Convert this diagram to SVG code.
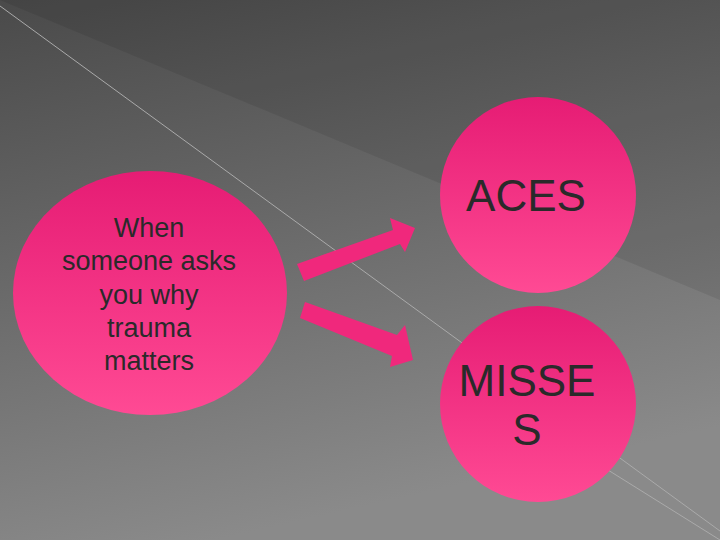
<svg xmlns="http://www.w3.org/2000/svg" width="720" height="540" viewBox="0 0 720 540">
<defs>
<linearGradient id="bg" x1="0" y1="0" x2="0.3" y2="1"><stop offset="0" stop-color="#4a4a4a"/><stop offset="1" stop-color="#8a8a8a"/></linearGradient>
<linearGradient id="pk" x1="0" y1="0" x2="0" y2="1"><stop offset="0" stop-color="#e61c74"/><stop offset="1" stop-color="#ff4a94"/></linearGradient>
<style>.c{fill:url(#pk)}.a{fill:#f0287c}.t{font-family:"Liberation Sans",Arial,sans-serif;fill:#2a2a2a;text-anchor:middle}.l{stroke:#aaa;stroke-width:1;fill:none}</style>
</defs>
<rect width="720" height="540" fill="url(#bg)"/>
<path d="M0,0 L720,0 L720,300 Z" fill="#000" opacity="0.08"/>
<line class="l" x1="0" y1="6" x2="720" y2="531"/>
<line class="l" x1="560" y1="440" x2="720" y2="540"/>
<g id="when"><ellipse class="c" cx="150" cy="293" rx="137" ry="122"/>
<text class="t" font-size="27"><tspan x="149" y="237">When</tspan><tspan x="149" y="270">someone asks</tspan><tspan x="149" y="304">you why</tspan><tspan x="149" y="337">trauma</tspan><tspan x="149" y="370">matters</tspan></text></g>
<g id="aces"><circle class="c" cx="538" cy="195" r="98"/><text class="t" font-size="44" x="526" y="211">ACES</text></g>
<g id="misses"><circle class="c" cx="538" cy="404" r="98"/><text class="t" font-size="44"><tspan x="527" y="396">MISSE</tspan><tspan x="527" y="445">S</tspan></text></g>
<g id="connectors">
<polygon class="a" points="297,264 393,230 390,218 415,228 405,252 400,244 304,281"/>
<polygon class="a" points="305,302 397,335 405,325 413,360 390,367 392,356 300,318"/>
</g>
</svg>
